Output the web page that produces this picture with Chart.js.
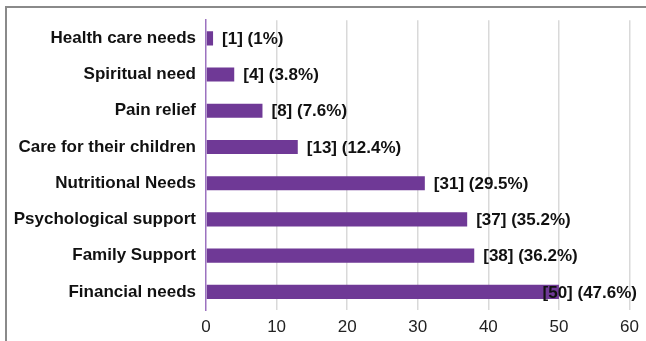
<!DOCTYPE html>
<html><head><meta charset="utf-8">
<script src="https://cdn.jsdelivr.net/npm/chart.js@4"></script>
<style>html,body{margin:0;padding:0;background:#fff;}#w{width:646px;height:341px;position:relative;}</style>
</head><body><div id="w"><canvas id="c" width="646" height="341"></canvas></div>
<script>
const categories = ["Health care needs","Spiritual need","Pain relief","Care for their children","Nutritional Needs","Psychological support","Family Support","Financial needs"];
const counts = [1,4,8,13,31,37,38,50];
const percents = ["1%","3.8%","7.6%","12.4%","29.5%","35.2%","36.2%","47.6%"];
const xTicks = [0,10,20,30,40,50,60];

const frame = {
  id:'frame',
  beforeDraw(chart){
    const ctx=chart.ctx; ctx.save();
    ctx.strokeStyle='#8a8a8a'; ctx.lineWidth=2;
    ctx.beginPath(); ctx.moveTo(6,341); ctx.lineTo(6,7); ctx.lineTo(646,7); ctx.stroke();
    ctx.restore();
  }
};
const labels = {
  id:'labels',
  afterDatasetsDraw(chart){
    const ctx=chart.ctx; ctx.save();
    ctx.font='bold 17px "Liberation Sans", Arial, sans-serif';
    ctx.fillStyle='#111'; ctx.textBaseline='middle'; ctx.textAlign='left';
    const meta=chart.getDatasetMeta(0);
    meta.data.forEach((bar,i)=>{
      const t='['+counts[i]+'] ('+percents[i]+')';
      const w=ctx.measureText(t).width;
      let x=bar.x+9;
      if(x+w>637) x=637-w;
      ctx.fillText(t,x,bar.y+1);
    });
    ctx.restore();
  }
};
new Chart(document.getElementById('c'),{
  type:'bar',
  data:{labels:categories,datasets:[{data:counts,backgroundColor:'#6f3996',borderWidth:0,barPercentage:0.39,categoryPercentage:1}]},
  options:{
    indexAxis:'y',responsive:false,animation:false,
    layout:{padding:{top:18,right:16,left:0,bottom:0}},
    plugins:{legend:{display:false},tooltip:{enabled:false}},
    scales:{
      x:{min:0,max:60,
        afterBuildTicks(s){s.ticks=xTicks.map(v=>({value:v}));},
        afterFit(s){s.height=31;},
        grid:{drawTicks:false,color:(c)=>c.tick&&c.tick.value===0?'rgba(0,0,0,0)':'#d9d9d9',lineWidth:1.5},
        border:{display:false},
        ticks:{padding:7,color:'#222',font:{family:'"Liberation Sans", Arial, sans-serif',size:17}}
      },
      y:{
        afterFit(s){s.width=206;},
        grid:{display:false,drawTicks:false},
        border:{display:true,color:'#9c72c0',width:1.5},
        ticks:{padding:10,color:'#111',font:{family:'"Liberation Sans", Arial, sans-serif',size:17,weight:'bold'}}
      }
    }
  },
  plugins:[frame,labels]
});
</script></body></html>
